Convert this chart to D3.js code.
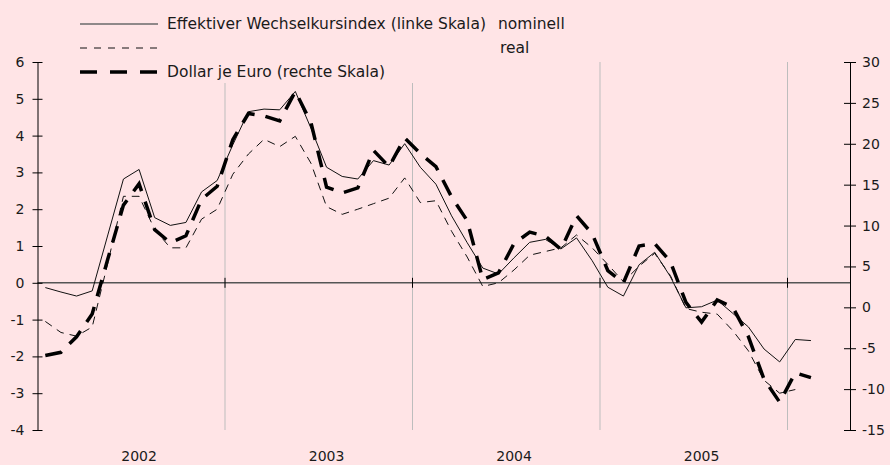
<!DOCTYPE html>
<html>
<head>
<meta charset="utf-8">
<script src="https://cdn.jsdelivr.net/npm/d3@7"></script>
<style>
  body { margin: 0; background: #ffe4e6; }
  svg { display: block; }
  text { font-family: "DejaVu Sans", sans-serif; fill: #1a1a1a; }
</style>
</head>
<body>
<div id="chart"></div>
<script>
// monthly values, Jan 2002 .. Feb 2006
var years = ["2002", "2003", "2004", "2005"];
var leftTicks = [6, 5, 4, 3, 2, 1, 0, -1, -2, -3, -4];
var rightTicks = [30, 25, 20, 15, 10, 5, 0, -5, -10, -15];

// Effektiver Wechselkursindex nominell (linke Skala)
var nominell = [-0.13, -0.25, -0.36, -0.22, 1.3, 2.82, 3.08, 1.77, 1.56, 1.64, 2.47, 2.78,
    3.75, 4.65, 4.72, 4.7, 5.2, 4.2, 3.14, 2.89, 2.82, 3.32, 3.2, 3.78,
    3.14, 2.68, 1.82, 1.09, 0.4, 0.24, 0.68, 1.1, 1.18, 0.92, 1.22, 0.6,
    -0.12, -0.36, 0.49, 0.83, 0.17, -0.68, -0.65, -0.47, -0.83, -1.2, -1.8, -2.15,
    -1.54, -1.57];

// Effektiver Wechselkursindex real (linke Skala)
var real = [-1.05, -1.35, -1.45, -1.2, 0.54, 2.35, 2.35, 1.45, 0.95, 0.95, 1.73, 2.0,
    2.95, 3.5, 3.9, 3.7, 3.98, 3.25, 2.07, 1.86, 2.0, 2.15, 2.3, 2.85,
    2.18, 2.23, 1.4, 0.7, -0.1, 0.0, 0.35, 0.75, 0.85, 0.95, 1.3, 0.95,
    0.5, 0.03, 0.45, 0.8, 0.2, -0.7, -0.8, -0.85, -1.3, -1.85, -2.65, -3.0,
    -2.9];

// Dollar je Euro (rechte Skala)
var dollar = [-5.9, -5.5, -3.6, -0.8, 5.9, 12.5, 15.1, 9.5, 7.9, 8.75, 13.2, 14.8,
    20.5, 23.7, 23.4, 22.8, 26.4, 22.6, 14.7, 14.0, 14.6, 19.2, 17.2, 20.7,
    18.8, 17.2, 13.5, 10.6, 3.4, 4.2, 7.8, 9.2, 8.7, 7.1, 11.2, 9.0,
    4.5, 3.0, 7.5, 7.8, 5.6, 0.6, -1.8, 0.9, 0.0, -3.6, -8.8, -11.6,
    -8.0, -8.6];

var W = 890, H = 465;
var svg = d3.select('#chart').append('svg')
    .attr('width', W)
    .attr('height', H);

svg.append('rect').attr('width', W).attr('height', H).attr('fill', '#ffe4e6');

// month index scale, 52 months shown (Jan 2002 .. Apr 2006)
var x = d3.scaleLinear().domain([0, 52]).range([37.5, 850]);
var yL = d3.scaleLinear().domain([-4, 6]).range([430, 62]);
var yR = d3.scaleLinear().domain([-15, 30]).range([430, 62]);

// plain hyphen instead of unicode minus
var fmt = function(d) { return String(d); };

// vertical year lines
var yearBreaks = [12, 24, 36, 48];
svg.append('g').selectAll('line')
    .data(yearBreaks)
    .enter().append('line')
    .attr('x1', function(d) { return x(d); })
    .attr('x2', function(d) { return x(d); })
    .attr('y1', yL(6))
    .attr('y2', yL(-4))
    .style('stroke', '#bdbdbd')
    .style('stroke-width', 1);

// zero line
svg.append('line')
    .attr('x1', x(0)).attr('x2', x(52))
    .attr('y1', yL(0)).attr('y2', yL(0))
    .style('stroke', '#555')
    .style('stroke-width', 1.5);

// small ticks on zero line
svg.append('g').selectAll('line')
    .data(yearBreaks)
    .enter().append('line')
    .attr('x1', function(d) { return x(d); })
    .attr('x2', function(d) { return x(d); })
    .attr('y1', yL(0) - 5)
    .attr('y2', yL(0) + 5)
    .style('stroke', '#000')
    .style('stroke-width', 1);

// left axis
var leftAxis = svg.append('g')
    .attr('transform', 'translate(' + x(0) + ',0)')
    .call(d3.axisLeft(yL).tickValues(leftTicks).tickSize(5).tickSizeOuter(0).tickPadding(8)
        .tickFormat(fmt));
leftAxis.selectAll('.tick line').attr('x1', 5);

// right axis
var rightAxis = svg.append('g')
    .attr('transform', 'translate(' + x(52) + ',0)')
    .call(d3.axisRight(yR).tickValues(rightTicks).tickSize(6).tickSizeOuter(0).tickPadding(6)
        .tickFormat(fmt));
rightAxis.selectAll('.tick line').attr('x1', -6);

svg.selectAll('.domain').style('stroke', '#000');
svg.selectAll('.tick line').style('stroke', '#000');
svg.selectAll('.tick text')
    .style('font-size', '14px')
    .style('font-family', '"DejaVu Sans", sans-serif')
    .style('fill', '#1a1a1a');

// year labels
svg.append('g').selectAll('text')
    .data(years)
    .enter().append('text')
    .attr('x', function(d, i) { return x(i * 12 + 6.5); })
    .attr('y', 461)
    .style('text-anchor', 'middle')
    .style('font-size', '14px')
    .text(function(d) { return d; });

// lines
function lineFor(scale) {
    return d3.line()
        .x(function(d, i) { return x(i + 0.5); })
        .y(function(d) { return scale(d); });
}

svg.append('path')
    .attr('d', lineFor(yL)(real))
    .style('fill', 'none')
    .style('stroke', '#111')
    .style('stroke-width', 1)
    .style('stroke-dasharray', '8,6');

svg.append('path')
    .attr('d', lineFor(yL)(nominell))
    .style('fill', 'none')
    .style('stroke', '#111')
    .style('stroke-width', 1);

svg.append('path')
    .attr('d', lineFor(yR)(dollar))
    .style('fill', 'none')
    .style('stroke', '#000')
    .style('stroke-width', 3.5)
    .style('stroke-dasharray', '17,11');

// legend (box hides the top of the grid lines)
var legend = svg.append('g');
legend.append('rect')
    .attr('x', 60).attr('y', 0)
    .attr('width', 520).attr('height', 83)
    .attr('fill', '#ffe4e6');

legend.append('line')
    .attr('x1', 80).attr('x2', 158).attr('y1', 24).attr('y2', 24)
    .style('stroke', '#6a6a6a').style('stroke-width', 1.5);
legend.append('line')
    .attr('x1', 80).attr('x2', 162).attr('y1', 48).attr('y2', 48)
    .style('stroke', '#111').style('stroke-width', 1)
    .style('stroke-dasharray', '7,7');
legend.append('line')
    .attr('x1', 80).attr('x2', 157).attr('y1', 72).attr('y2', 72)
    .style('stroke', '#000').style('stroke-width', 3.5)
    .style('stroke-dasharray', '17,13');

legend.append('text').attr('x', 167).attr('y', 29).style('font-size', '15.5px')
    .text('Effektiver Wechselkursindex (linke Skala)');
legend.append('text').attr('x', 498).attr('y', 29).style('font-size', '15.5px')
    .text('nominell');
legend.append('text').attr('x', 500).attr('y', 53).style('font-size', '15.5px')
    .text('real');
legend.append('text').attr('x', 167).attr('y', 77).style('font-size', '15.5px')
    .text('Dollar je Euro (rechte Skala)');
</script>
</body>
</html>
